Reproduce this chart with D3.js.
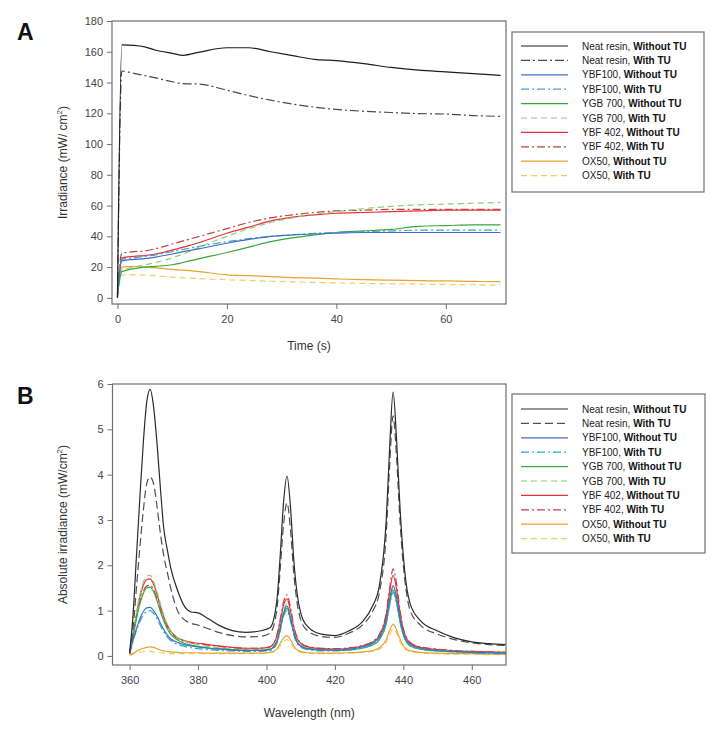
<!DOCTYPE html>
<html><head><meta charset="utf-8">
<script src="https://cdn.jsdelivr.net/npm/d3@7"></script>
<style>body{margin:0;background:#fff}svg{display:block}text{font-family:"Liberation Sans",Arial,sans-serif}</style>
</head><body><svg id="c" width="714" height="735"></svg>
<script>
// ---------- Panel A data ----------
const timeA = [0,0.8,3,5,7,10,12,15,20,24,28,32,36,40,45,50,55,60,65,70];
const neatWithoutA = [0,164.5,164.2,163.2,161,159,157.7,159.8,162.6,162.6,160,157.5,155,154.2,152.3,149.8,148,146.9,145.8,144.6];
const neatWithA    = [0,147.5,146,144.5,143,140.5,139.3,139,135,131.5,128.5,126,124,122.5,121.3,120.5,119.8,119.5,118.5,118];
const ybf100WithoutA = [2,24,25,25.5,26.5,28.5,30,32,35.5,38,40,41,41.5,42,42.5,42.5,42.5,42.5,42.5,42.5];
const ybf100WithA    = [2,25,26,27,28,30,31.5,33.5,36.5,38.5,40,41,42,42.5,43,43.5,44,44,44,44];
const ygb700WithoutA = [2,17,19,20,20.5,21.5,23,25.5,29.5,33,36.5,39,41,42.5,43.5,44.5,46.5,47,47.5,47.5];
const ygb700WithA    = [2,18,20,21.5,23,26,28.5,33,40,45,49,52,54.5,56,58,59.5,60.5,61,61.5,62];
const ybf402WithoutA = [1,26,27,27.5,28.5,31,33,36,42,46,50,52.5,54,55,55.5,56,56.5,57,57,57];
const ybf402WithA    = [3,29,30,30.5,32,35,37,40,45,49,52,54,55.5,56.5,57,57.5,57.5,57.5,57.5,57.5];
const ox50WithoutA = [2,20,20.5,20,19.5,18.5,18,17,15,14.5,13.8,13.2,12.8,12.3,11.8,11.5,11.2,11,10.7,10.5];
const ox50WithA    = [1,15,15,14.8,14.3,13.5,13,12.5,11.8,11.3,10.8,10.4,10,9.7,9.4,9.1,8.9,8.7,8.5,8.3];
const xTicksA = [0,20,40,60];
const yTicksA = [0,20,40,60,80,100,120,140,160,180];

// ---------- Panel B data ----------
const wavelengthB = [360,361,362,363,364,365,366,367,368,369,370,371,372,374,376,378,380,383,386,390,394,398,401,
  403,404,405,406,407,408,409,410,412,416,420,424,428,431,433,435,436,437,438,439,440,441,442,445,450,455,460,465,470];
const neatWithoutB = [0.08,0.9,2.2,3.5,4.7,5.6,5.88,5.5,4.7,3.7,2.8,2.35,1.95,1.45,1.1,0.97,0.95,0.82,0.68,0.56,0.52,0.55,0.62,
  1.2,2.2,3.4,3.97,3.3,2.1,1.35,0.95,0.65,0.48,0.45,0.55,0.75,1.1,1.55,3.0,4.6,5.82,4.8,3.3,2.2,1.5,1.15,0.78,0.55,0.4,0.31,0.27,0.25];
const neatWithB = [0.05,0.6,1.5,2.4,3.2,3.8,3.95,3.8,3.3,2.7,2.2,1.85,1.5,1.0,0.8,0.72,0.68,0.6,0.52,0.45,0.42,0.43,0.5,
  1.0,1.9,2.9,3.38,2.8,1.8,1.15,0.8,0.56,0.43,0.41,0.5,0.68,0.98,1.4,2.7,4.2,5.3,4.4,3.0,2.0,1.35,1.0,0.68,0.48,0.36,0.29,0.25,0.23];
const ybf100WithoutB = [0.05,0.35,0.6,0.82,0.98,1.06,1.07,1.0,0.88,0.72,0.58,0.46,0.38,0.3,0.25,0.22,0.2,0.17,0.15,0.13,0.12,0.12,0.14,
  0.3,0.6,0.95,1.1,0.85,0.5,0.3,0.22,0.16,0.13,0.13,0.15,0.2,0.28,0.42,0.8,1.25,1.55,1.3,0.85,0.5,0.33,0.25,0.17,0.12,0.1,0.08,0.07,0.06];
const ybf100WithB = [0.05,0.32,0.56,0.76,0.9,0.98,1.0,0.94,0.82,0.67,0.53,0.42,0.34,0.26,0.21,0.18,0.16,0.14,0.12,0.11,0.1,0.1,0.12,
  0.27,0.55,0.88,1.0,0.78,0.46,0.27,0.19,0.14,0.11,0.11,0.13,0.17,0.25,0.38,0.72,1.12,1.4,1.17,0.76,0.45,0.3,0.22,0.15,0.11,0.09,0.07,0.06,0.05];
const ygb700WithoutB = [0.05,0.42,0.82,1.15,1.38,1.5,1.52,1.42,1.22,0.98,0.77,0.6,0.48,0.35,0.28,0.24,0.21,0.18,0.16,0.14,0.13,0.13,0.15,
  0.32,0.6,0.92,1.05,0.82,0.5,0.3,0.22,0.16,0.14,0.12,0.13,0.17,0.24,0.36,0.72,1.15,1.45,1.2,0.78,0.46,0.3,0.22,0.15,0.11,0.09,0.08,0.07,0.06];
const ygb700WithB = [0.05,0.5,0.95,1.35,1.62,1.76,1.78,1.65,1.42,1.15,0.9,0.7,0.56,0.4,0.33,0.28,0.25,0.21,0.18,0.15,0.14,0.14,0.16,
  0.35,0.65,1.0,1.15,0.9,0.55,0.33,0.24,0.17,0.13,0.12,0.14,0.18,0.25,0.38,0.75,1.2,1.5,1.25,0.8,0.48,0.32,0.24,0.16,0.12,0.1,0.08,0.07,0.06];
const ybf402WithoutB = [0.06,0.48,0.92,1.3,1.56,1.68,1.7,1.58,1.36,1.1,0.86,0.68,0.55,0.4,0.34,0.3,0.28,0.25,0.22,0.19,0.17,0.17,0.2,
  0.42,0.75,1.12,1.26,1.0,0.62,0.38,0.28,0.2,0.16,0.15,0.17,0.22,0.3,0.45,0.9,1.42,1.78,1.48,0.95,0.57,0.38,0.28,0.19,0.14,0.11,0.1,0.09,0.08];
const ybf402WithB = [0.06,0.45,0.85,1.2,1.43,1.54,1.56,1.46,1.26,1.02,0.8,0.64,0.52,0.38,0.32,0.29,0.27,0.24,0.21,0.18,0.17,0.17,0.2,
  0.45,0.8,1.2,1.35,1.08,0.66,0.4,0.29,0.21,0.17,0.16,0.18,0.23,0.32,0.48,0.95,1.5,1.92,1.6,1.02,0.6,0.4,0.3,0.2,0.15,0.12,0.1,0.09,0.08];
const ox50WithoutB = [0.02,0.06,0.1,0.14,0.17,0.19,0.2,0.19,0.16,0.13,0.11,0.1,0.09,0.08,0.07,0.07,0.07,0.06,0.06,0.06,0.06,0.06,0.08,
  0.15,0.28,0.4,0.45,0.36,0.22,0.13,0.1,0.07,0.06,0.06,0.07,0.09,0.12,0.18,0.36,0.56,0.7,0.58,0.38,0.22,0.15,0.11,0.08,0.06,0.05,0.05,0.04,0.04];
const ox50WithB = [0.01,0.04,0.06,0.08,0.09,0.1,0.1,0.09,0.08,0.07,0.06,0.06,0.05,0.05,0.05,0.05,0.05,0.05,0.05,0.05,0.05,0.05,0.07,
  0.12,0.22,0.32,0.36,0.29,0.18,0.11,0.08,0.06,0.05,0.05,0.06,0.08,0.1,0.15,0.3,0.47,0.6,0.5,0.32,0.19,0.13,0.1,0.07,0.05,0.04,0.04,0.03,0.03];
const xTicksB = [360,380,400,420,440,460];
const yTicksB = [0,1,2,3,4,5,6];

// legend names
const materials = ["Neat resin","Neat resin","YBF100","YBF100","YGB 700","YGB 700","YBF 402","YBF 402","OX50","OX50"];
const conditions = ["Without TU","With TU","Without TU","With TU","Without TU","With TU","Without TU","With TU","Without TU","With TU"];

// styles
const colorsA = ["#1e1e1e","#4a4a4a","#3f6fc4","#3aa6cc","#36a83a","#86d070","#e8303c","#b8443c","#e6a52e","#f2cc6a"];
const colorsB = ["#2a2a2a","#505050","#3f6fc4","#22aacc","#36b040","#86d070","#e8303c","#b8443c","#e6a52e","#f2cc6a"];
const dashA = [null,"9,3,2,3",null,"8,3,2,3",null,"6,4",null,"8,3,2,3",null,"6,4"];
const dashB = [null,"8,4",null,"8,3,2,3",null,"6,4",null,"8,3,2,3",null,"6,4"];

const svg = d3.select("#c");
svg.append("rect").attr("width",714).attr("height",735).attr("fill","#fff");

function panel(opt){
  const {x,y,xTicks,yTicks,xs,series,colors,dash,label,labelY,ytitle,xtitle,xtitleY,leg,clipId} = opt;
  const g = svg.append("g");
  const [x0,x1] = x.range(), [y0,y1] = y.range();
  g.append("clipPath").attr("id",clipId).append("rect")
    .attr("x",x0).attr("y",y1).attr("width",x1-x0).attr("height",y0-y1);
  const line = d3.line().x((d,i)=>x(xs[i])).y(d=>y(d)).curve(d3.curveMonotoneX);
  const lg = g.append("g").attr("clip-path",`url(#${clipId})`);
  series.map((s,i)=>i).reverse().forEach(i=>{
    lg.append("path").attr("d",line(series[i])).attr("fill","none")
      .attr("stroke",colors[i]).attr("stroke-width",1.2)
      .attr("stroke-dasharray",dash[i]).attr("stroke-linejoin","round");
  });
  g.append("rect").attr("x",x0).attr("y",y1).attr("width",x1-x0).attr("height",y0-y1)
    .attr("fill","none").attr("stroke","#707070").attr("stroke-width",1.2);
  const fmt = d3.format("~g");
  const ax = g.append("g").attr("transform",`translate(0,${y0})`)
    .call(d3.axisBottom(x).tickValues(xTicks).tickFormat(fmt).tickSize(5).tickSizeOuter(0).tickPadding(6));
  const ay = g.append("g").attr("transform",`translate(${x0},0)`)
    .call(d3.axisLeft(y).tickValues(yTicks).tickFormat(fmt).tickSize(5).tickSizeOuter(0).tickPadding(4));
  [ax,ay].forEach(a=>{
    a.select(".domain").remove();
    a.selectAll(".tick line").attr("stroke","#707070");
    a.selectAll(".tick text").attr("fill","#444").attr("font-size",11)
      .attr("font-family","'Liberation Sans',Arial,sans-serif");
  });
  g.append("text").attr("x",17).attr("y",labelY).attr("font-size",23).attr("font-weight","bold")
    .attr("fill","#111").text(label);
  const yt = g.append("text").attr("transform",`translate(${ytitle.x},${(y0+y1)/2}) rotate(-90)`)
    .attr("text-anchor","middle").attr("font-size",12).attr("fill","#333");
  yt.append("tspan").text(ytitle.main);
  yt.append("tspan").attr("font-size",8).attr("dy",-5).text("2");
  yt.append("tspan").attr("dy",5).text(")");
  g.append("text").attr("x",(x0+x1)/2).attr("y",xtitleY).attr("text-anchor","middle")
    .attr("font-size",12).attr("fill","#333").text(xtitle);
  const L = g.append("g");
  L.append("rect").attr("x",leg.x).attr("y",leg.y).attr("width",leg.w).attr("height",leg.h)
    .attr("fill","#fff").attr("stroke","#707070").attr("stroke-width",1.2);
  materials.forEach((m,i)=>{
    const yy = leg.first + i*14.4;
    L.append("line").attr("x1",leg.x+9).attr("x2",leg.x+56).attr("y1",yy).attr("y2",yy)
      .attr("stroke",colors[i]).attr("stroke-width",1.2).attr("stroke-dasharray",dash[i]);
    const t = L.append("text").attr("x",leg.x+70).attr("y",yy+3.5).attr("font-size",10).attr("fill","#222");
    t.append("tspan").text(m+", ");
    t.append("tspan").attr("font-weight","bold").attr("fill","#111").text(conditions[i]);
  });
}

panel({
  x: d3.scaleLinear([-1,71],[112,506]),
  y: d3.scaleLinear([-4,180],[304,21]),
  xTicks: xTicksA, yTicks: yTicksA, xs: timeA,
  series: [neatWithoutA,neatWithA,ybf100WithoutA,ybf100WithA,ygb700WithoutA,ygb700WithA,ybf402WithoutA,ybf402WithA,ox50WithoutA,ox50WithA],
  colors: colorsA, dash: dashA, label: "A", labelY: 40,
  ytitle: {x:67, main:"Irradiance (mW/ cm"}, xtitle: "Time (s)", xtitleY: 350,
  leg: {x:512,y:32,w:192,h:160,first:46}, clipId:"clipA"
});
panel({
  x: d3.scaleLinear([355,470],[112.5,506]),
  y: d3.scaleLinear([-0.2,6],[665,384]),
  xTicks: xTicksB, yTicks: yTicksB, xs: wavelengthB,
  series: [neatWithoutB,neatWithB,ybf100WithoutB,ybf100WithB,ygb700WithoutB,ygb700WithB,ybf402WithoutB,ybf402WithB,ox50WithoutB,ox50WithB],
  colors: colorsB, dash: dashB, label: "B", labelY: 404,
  ytitle: {x:67, main:"Absolute irradiance (mW/cm"}, xtitle: "Wavelength (nm)", xtitleY: 717,
  leg: {x:512,y:394,w:193,h:159,first:409}, clipId:"clipB"
});
</script></body></html>
